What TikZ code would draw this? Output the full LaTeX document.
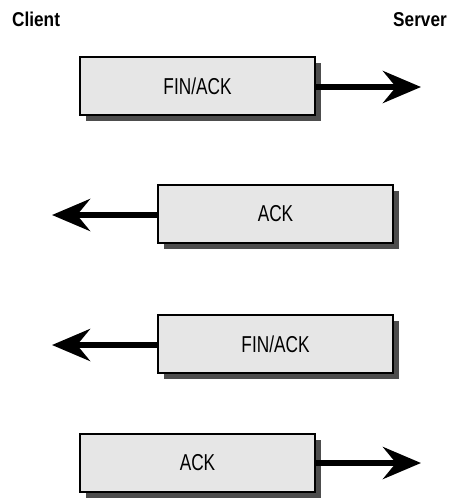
\documentclass[tikz,border=0pt]{standalone}
\usepackage{fontspec}
\usetikzlibrary{arrows.meta,shadows}
\newfontfamily\lblfont[FakeStretch=0.86]{Liberation Sans}
\newfontfamily\boxfont[FakeStretch=0.75]{Liberation Sans}
\definecolor{boxfill}{HTML}{E6E6E6}
\definecolor{shadowgray}{HTML}{4D4D4D}
\tikzset{
  msgbox/.style={draw=black, line width=2pt, fill=boxfill, minimum width=235pt, minimum height=58pt, inner sep=0pt,
    font=\boxfont\fontsize{23}{23}\selectfont,
    drop shadow={shadow xshift=6pt, shadow yshift=-6pt, fill=shadowgray, opacity=1}},
  msgarrow/.style={line width=6pt, -{Stealth[length=38pt,width=32pt,inset=13pt]}},
  side/.style={font=\lblfont\bfseries\fontsize{20}{20}\selectfont, inner sep=0pt}
}
\begin{document}
\begin{tikzpicture}[x=1pt,y=-1pt]
\useasboundingbox (0,0) rectangle (449,498);
\node[side, anchor=base west] (client) at (12,26) {Client};
\node[side, anchor=base east] (server) at (447,26) {Server};
\node[msgbox] (b1) at (197.5,86) {FIN/ACK};
\node[msgbox] (b2) at (275.5,214) {ACK};
\node[msgbox] (b3) at (275.5,344) {FIN/ACK};
\node[msgbox] (b4) at (197.5,463) {ACK};
\coordinate (t1) at (421,87);
\coordinate (t2) at (52,215);
\coordinate (t3) at (52,345);
\coordinate (t4) at (421,463);
\draw[msgarrow] (b1.east |- t1) -- (t1);
\draw[msgarrow] (b2.west |- t2) -- (t2);
\draw[msgarrow] (b3.west |- t3) -- (t3);
\draw[msgarrow] (b4.east |- t4) -- (t4);
\end{tikzpicture}
\end{document}
